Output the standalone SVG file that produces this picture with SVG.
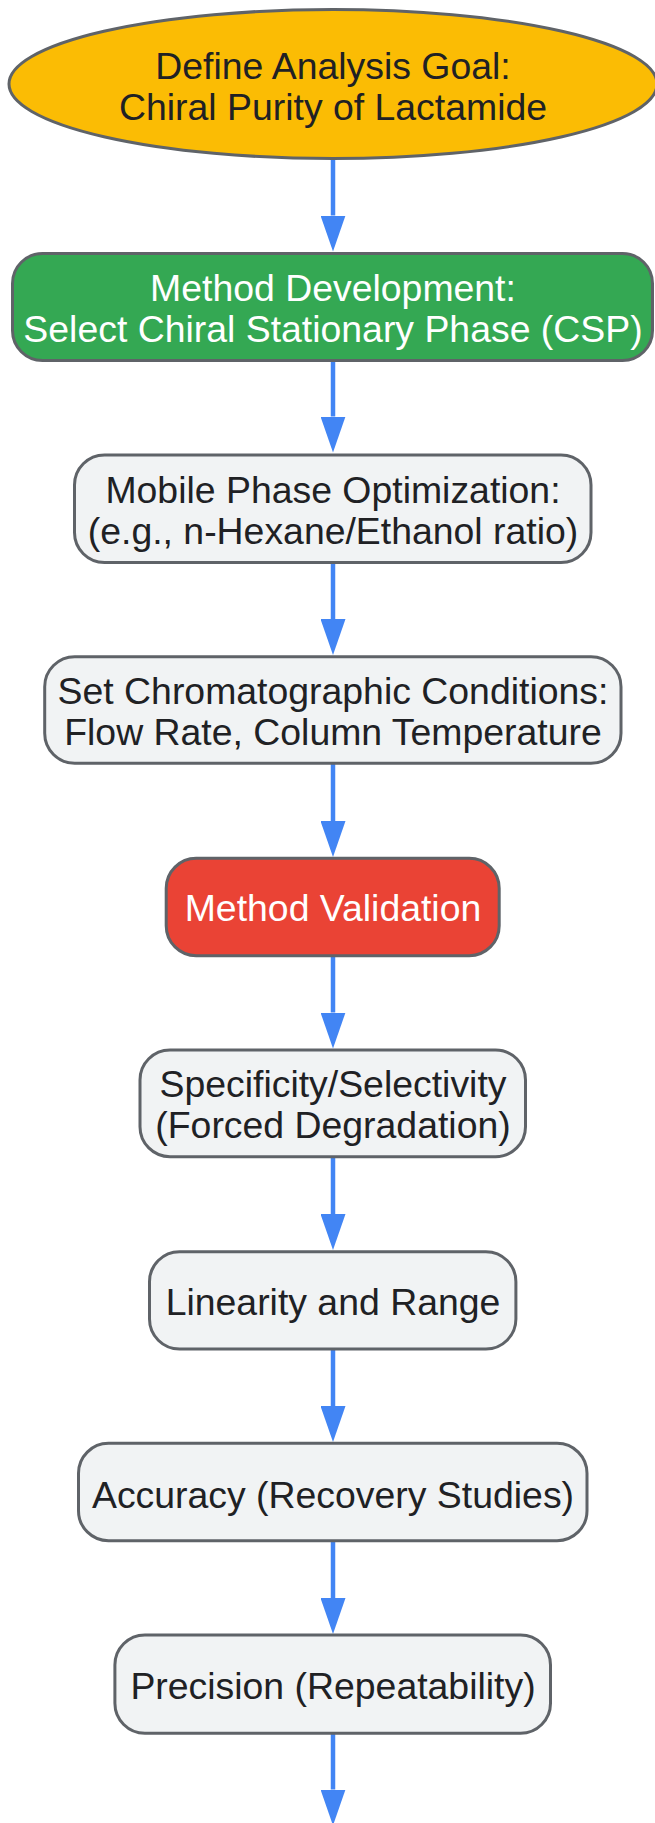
<svg xmlns="http://www.w3.org/2000/svg" width="655" height="1823" viewBox="0 0 655 1823">
<style>
.n{stroke:#5f6368;stroke-width:3}
.lt{fill:#f1f3f4}
.t{font-family:"Liberation Sans",Arial,sans-serif;font-size:37.4px;text-anchor:middle;fill:#202124}
.w{fill:#ffffff}
.e{fill:none;stroke:#4285f4;stroke-width:4.5}
</style>
<defs>
<marker id="ah" viewBox="0 0 36 25" refX="0" refY="12.5" markerWidth="36" markerHeight="25" markerUnits="userSpaceOnUse" orient="auto">
<path d="M0,0 L36,12.5 L0,25 z" fill="#4285f4"/>
</marker>
</defs>
<rect width="655" height="1823" fill="#ffffff"/>
<g id="connectors">
<path class="e" d="M333 159 V215.5" marker-end="url(#ah)"/>
<path class="e" d="M333 360.5 V416.5" marker-end="url(#ah)"/>
<path class="e" d="M333 562.5 V619" marker-end="url(#ah)"/>
<path class="e" d="M333 763.3 V821" marker-end="url(#ah)"/>
<path class="e" d="M333 955.7 V1012.5" marker-end="url(#ah)"/>
<path class="e" d="M333 1156.7 V1214" marker-end="url(#ah)"/>
<path class="e" d="M333 1349 V1406" marker-end="url(#ah)"/>
<path class="e" d="M333 1540.7 V1598" marker-end="url(#ah)"/>
<path class="e" d="M333 1733.3 V1789.5" marker-end="url(#ah)"/>
</g>
<g id="goal">
<ellipse class="n" cx="333" cy="84" rx="324" ry="74.5" fill="#fbbc04"/>
<text class="t" x="333" y="78.5">Define Analysis Goal:</text>
<text class="t" x="333" y="120">Chiral Purity of Lactamide</text>
</g>
<g id="method-development">
<rect class="n" x="12.5" y="253.5" width="640" height="107" rx="30" fill="#34a853"/>
<text class="t w" x="333" y="300.5">Method Development:</text>
<text class="t w" x="333" y="342">Select Chiral Stationary Phase (CSP)</text>
</g>
<g id="mobile-phase">
<rect class="n lt" x="74.5" y="455" width="516.5" height="107.5" rx="30"/>
<text class="t" x="333" y="502.7">Mobile Phase Optimization:</text>
<text class="t" x="333" y="544">(e.g., n-Hexane/Ethanol ratio)</text>
</g>
<g id="conditions">
<rect class="n lt" x="44.7" y="656.7" width="576.3" height="106.6" rx="30"/>
<text class="t" x="333" y="703.5">Set Chromatographic Conditions:</text>
<text class="t" x="333" y="745">Flow Rate, Column Temperature</text>
</g>
<g id="validation">
<rect class="n" x="166.2" y="858.3" width="333" height="97.4" rx="30" fill="#ea4335"/>
<text class="t w" x="333" y="921">Method Validation</text>
</g>
<g id="specificity">
<rect class="n lt" x="140" y="1050" width="385.5" height="106.7" rx="30"/>
<text class="t" x="333" y="1096.5">Specificity/Selectivity</text>
<text class="t" x="333" y="1137.8">(Forced Degradation)</text>
</g>
<g id="linearity">
<rect class="n lt" x="149.5" y="1251.7" width="366.4" height="97.3" rx="30"/>
<text class="t" x="333" y="1315">Linearity and Range</text>
</g>
<g id="accuracy">
<rect class="n lt" x="78.5" y="1443.3" width="508.5" height="97.4" rx="30"/>
<text class="t" x="333" y="1507.5">Accuracy (Recovery Studies)</text>
</g>
<g id="precision">
<rect class="n lt" x="114.9" y="1635" width="435.6" height="98.3" rx="30"/>
<text class="t" x="333" y="1699">Precision (Repeatability)</text>
</g>
</svg>
